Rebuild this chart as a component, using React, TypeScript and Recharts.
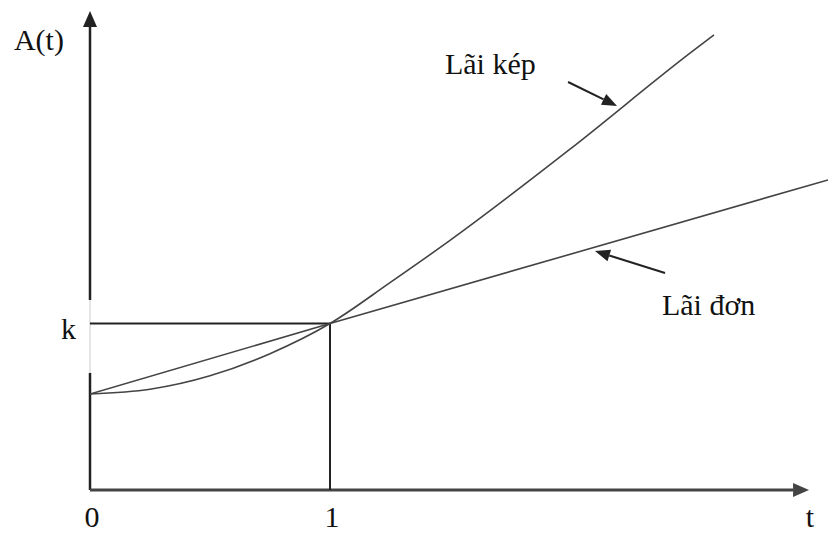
import { LineChart, Line, XAxis, YAxis, ReferenceLine, ReferenceDot } from 'recharts'

// t (years) and A(t), start value A(0) = 1
const compoundT = [0, 0.25, 0.5, 0.75, 1, 1.25, 1.5, 2, 2.5, 2.6]
const compoundA = [1.0, 1.05, 1.19, 1.42, 1.734, 2.16, 2.6, 3.55, 4.55, 4.74]
const simpleT = [0, 1, 3.075]
const simpleA = [1.0, 1.734, 3.23]

const K_VALUE = 1.734
const X_MAX = 3.075
const Y_MAX = 5

// labels and pointer arrows, in data units (t, A)
const labels = [
  { text: 'A(t)', t: -0.317, v: 4.583, anchor: 'start' },
  { text: 'k', t: -0.121, v: 1.573, anchor: 'start' },
  { text: '0', t: 0.008, v: -0.385, anchor: 'middle' },
  { text: '1', t: 1.008, v: -0.385, anchor: 'middle' },
  { text: 't', t: 3.0, v: -0.385, anchor: 'middle' },
  { text: 'Lãi kép', t: 1.479, v: 4.333, anchor: 'start' },
  { text: 'Lãi đơn', t: 2.383, v: 1.823, anchor: 'start' },
]
const pointers = [
  { from: [1.992, 4.25], to: [2.196, 4.0] },
  { from: [2.396, 2.26], to: [2.104, 2.49] },
]

const compoundData = compoundT.map((t, i) => ({ t, v: compoundA[i] }))
const simpleData = simpleT.map((t, i) => ({ t, v: simpleA[i] }))

const INK = '#222'
const FONT = "'Liberation Serif', 'Times New Roman', serif"

function ArrowLine(props: any) {
  const { x1, y1, x2, y2, stroke = INK, strokeWidth = 2, headLen = 16, headWidth = 14 } = props
  const dx = x2 - x1
  const dy = y2 - y1
  const len = Math.sqrt(dx * dx + dy * dy) || 1
  const ux = dx / len
  const uy = dy / len
  const bx = x2 - ux * headLen
  const by = y2 - uy * headLen
  const px = -uy * headWidth / 2
  const py = ux * headWidth / 2
  return (
    <g>
      <line x1={x1} y1={y1} x2={bx} y2={by} stroke={stroke} strokeWidth={strokeWidth} />
      <polygon points={`${x2},${y2} ${bx + px},${by + py} ${bx - px},${by - py}`} fill={stroke} />
    </g>
  )
}

function PlainLine(props: any) {
  const { x1, y1, x2, y2, stroke, strokeWidth } = props
  return <line x1={x1} y1={y1} x2={x2} y2={y2} stroke={stroke} strokeWidth={strokeWidth} />
}

function textShape(text: string, anchor: string) {
  return (props: any) => (
    <text x={props.cx} y={props.cy} textAnchor={anchor} fill="#111"
      style={{ fontFamily: FONT, fontSize: 30 }}>
      {text}
    </text>
  )
}

export default function App() {
  return (
    <div style={{ position: 'absolute', left: 0, top: 0, background: '#fff' }}>
      <LineChart width={828} height={533} margin={{ top: 10, right: 0, bottom: 43, left: 90 }}>
        <XAxis type="number" dataKey="t" domain={[0, X_MAX]} allowDataOverflow hide />
        <YAxis type="number" dataKey="v" domain={[0, Y_MAX]} allowDataOverflow hide />

        {/* y axis, faint between the start value and k */}
        <ReferenceLine segment={[{ x: 0, y: 0 }, { x: 0, y: 1.22 }]} stroke={INK} strokeWidth={2.5}
          ifOverflow="visible" shape={PlainLine} />
        <ReferenceLine segment={[{ x: 0, y: 1.22 }, { x: 0, y: 1.98 }]} stroke="#ddd" strokeWidth={1.5}
          ifOverflow="visible" shape={PlainLine} />
        <ReferenceLine segment={[{ x: 0, y: 1.98 }, { x: 0, y: 4.99 }]} stroke={INK} strokeWidth={2.5}
          ifOverflow="visible" shape={(p: any) => <ArrowLine {...p} stroke={INK} strokeWidth={2.5} />} />
        {/* x axis */}
        <ReferenceLine segment={[{ x: 0, y: 0 }, { x: 2.996, y: 0 }]} stroke="#555" strokeWidth={3}
          ifOverflow="visible" shape={(p: any) => <ArrowLine {...p} stroke="#444" strokeWidth={3} />} />

        {/* k guide lines */}
        <ReferenceLine segment={[{ x: 0, y: K_VALUE }, { x: 1, y: K_VALUE }]} stroke={INK} strokeWidth={2}
          ifOverflow="visible" shape={PlainLine} />
        <ReferenceLine segment={[{ x: 1, y: 0 }, { x: 1, y: K_VALUE }]} stroke={INK} strokeWidth={2}
          ifOverflow="visible" shape={PlainLine} />

        <Line data={simpleData} dataKey="v" type="linear" stroke="#444" strokeWidth={1.6} dot={false}
          isAnimationActive={false} />
        <Line data={compoundData} dataKey="v" type="monotone" stroke="#444" strokeWidth={1.6} dot={false}
          isAnimationActive={false} />

        {pointers.map((p, i) => (
          <ReferenceLine key={i} segment={[{ x: p.from[0], y: p.from[1] }, { x: p.to[0], y: p.to[1] }]}
            ifOverflow="visible"
            shape={(sp: any) => <ArrowLine {...sp} stroke={INK} strokeWidth={2} headLen={15} headWidth={12} />} />
        ))}

        {labels.map(l => (
          <ReferenceDot key={l.text} x={l.t} y={l.v} r={0} ifOverflow="visible" shape={textShape(l.text, l.anchor)} />
        ))}
      </LineChart>
    </div>
  )
}
